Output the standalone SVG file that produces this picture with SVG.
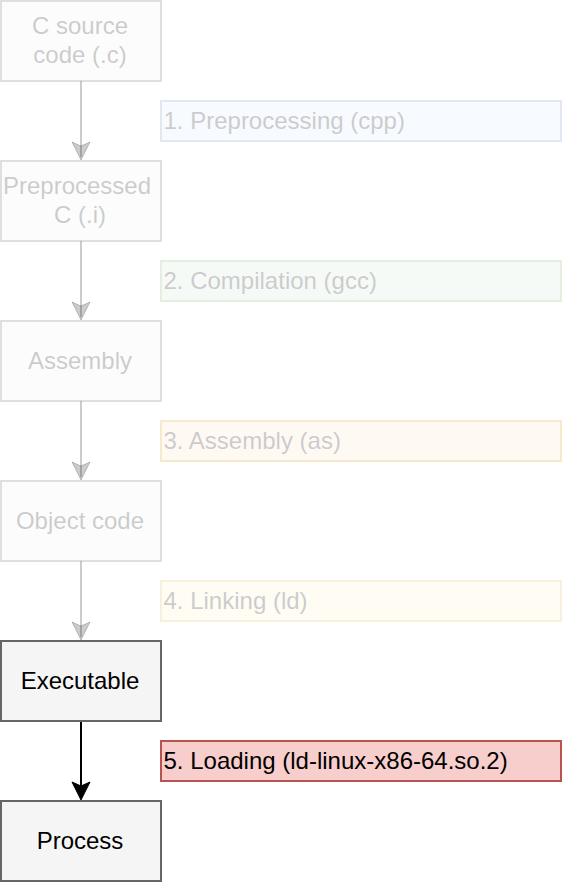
<svg xmlns="http://www.w3.org/2000/svg" width="562" height="882" viewBox="0 0 562 882">
<style>
text{font-family:"Liberation Sans",Arial,Helvetica,sans-serif;font-size:24px;fill:#000}
.node rect{fill:#f5f5f5;stroke:#666666;stroke-width:2}
.ctr{text-anchor:middle}
.faded{opacity:0.2}
.lbl rect{stroke-width:2}
.edge{fill:none;stroke:#000;stroke-width:2}
</style>
<defs>
<marker id="arr" markerUnits="userSpaceOnUse" orient="auto" overflow="visible" refX="0" refY="0" markerWidth="20" markerHeight="20">
<path d="M14,0 L-4,-9 L0,0 L-4,9 Z" fill="#000" stroke="#000" stroke-width="1"/>
</marker>
<marker id="arrF" markerUnits="userSpaceOnUse" orient="auto" overflow="visible" refX="0" refY="0" markerWidth="20" markerHeight="20">
<path d="M3,0 L-15,-9 L-11,0 L-15,9 Z" fill="#000" fill-opacity="0.2" stroke="#000" stroke-opacity="0.2" stroke-width="1"/>
</marker>
</defs>
<rect width="562" height="882" fill="#fff"/>
<g id="connectors">
<path class="edge" stroke-opacity="0.2" d="M81,81 L81,157" marker-end="url(#arrF)"/>
<path class="edge" stroke-opacity="0.2" d="M81,241 L81,317" marker-end="url(#arrF)"/>
<path class="edge" stroke-opacity="0.2" d="M81,401 L81,477" marker-end="url(#arrF)"/>
<path class="edge" stroke-opacity="0.2" d="M81,561 L81,637" marker-end="url(#arrF)"/>
<path class="edge" d="M81,721 L81,786" marker-end="url(#arr)"/>
</g>
<g id="n-source" class="node faded"><rect x="1" y="1" width="160" height="80"/><text class="ctr" x="80" y="34">C source</text><text class="ctr" x="80" y="63">code (.c)</text></g>
<g id="n-pre" class="node faded"><rect x="1" y="161" width="160" height="80"/><text class="ctr" x="77" y="194">Preprocessed</text><text class="ctr" x="80" y="223">C (.i)</text></g>
<g id="n-asm" class="node faded"><rect x="1" y="321" width="160" height="80"/><text class="ctr" x="80" y="368.5">Assembly</text></g>
<g id="n-obj" class="node faded"><rect x="1" y="481" width="160" height="80"/><text class="ctr" x="80" y="528.5">Object code</text></g>
<g id="n-exe" class="node"><rect x="1" y="641" width="160" height="80"/><text class="ctr" x="80" y="688.5">Executable</text></g>
<g id="n-proc" class="node"><rect x="1" y="801" width="160" height="80"/><text class="ctr" x="80" y="848.5">Process</text></g>
<g id="l1" class="lbl faded"><rect x="161" y="101" width="400" height="40" fill="#dae8fc" stroke="#6c8ebf"/><text x="163.5" y="128.5">1. Preprocessing (cpp)</text></g>
<g id="l2" class="lbl faded"><rect x="161" y="261" width="400" height="40" fill="#d5e8d4" stroke="#82b366"/><text x="163.5" y="288.5">2. Compilation (gcc)</text></g>
<g id="l3" class="lbl faded"><rect x="161" y="421" width="400" height="40" fill="#ffe6cc" stroke="#d79b00"/><text x="163.5" y="448.5">3. Assembly (as)</text></g>
<g id="l4" class="lbl faded"><rect x="161" y="581" width="400" height="40" fill="#fff2cc" stroke="#d6b656"/><text x="163.5" y="608.5">4. Linking (ld)</text></g>
<g id="l5" class="lbl"><rect x="161" y="741" width="400" height="40" fill="#f8cecc" stroke="#b85450"/><text x="163.5" y="768.5">5. Loading (ld-linux-x86-64.so.2)</text></g>
</svg>
